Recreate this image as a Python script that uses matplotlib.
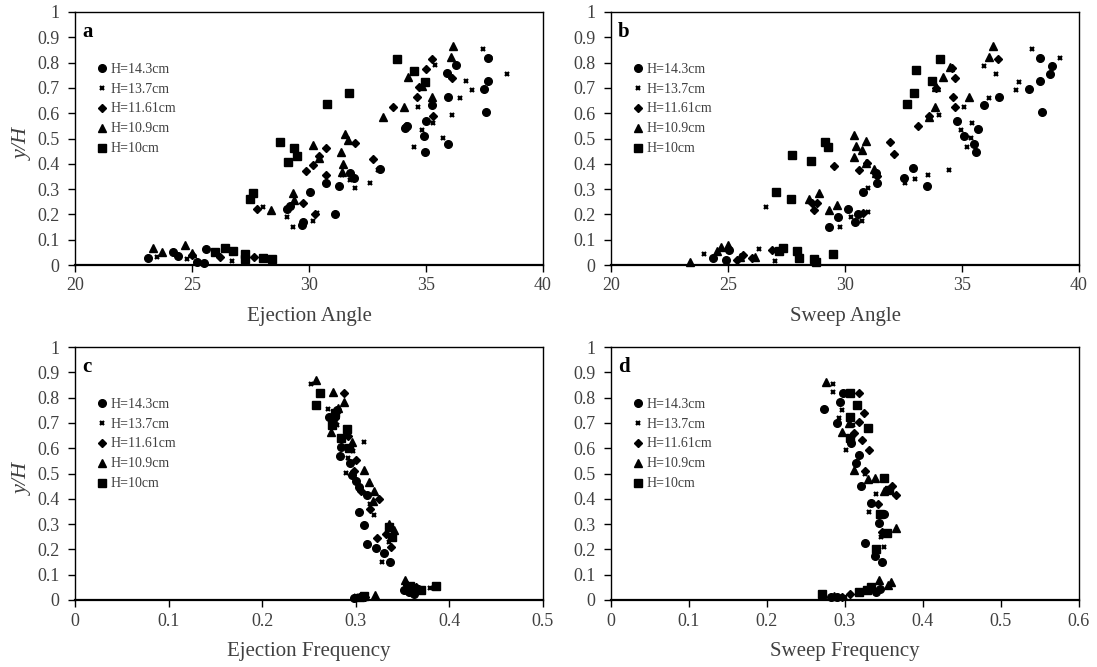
import matplotlib
matplotlib.use("Agg")
import matplotlib.pyplot as plt

plt.rcParams['font.family'] = ['Liberation Serif', 'DejaVu Serif']

labels = ['H=14.3cm', 'H=13.7cm', 'H=11.61cm', 'H=10.9cm', 'H=10cm']

# ---- panel a: ejection angle
a_x_143 = [23.1, 24.2, 24.4, 25.6, 25.2, 25.5, 29.04, 29.19, 29.69, 29.76, 30.04, 30.71, 31.11, 31.27, 31.75, 31.92, 33.03, 34.10, 34.17, 34.93, 34.96, 35.0, 35.24, 35.88, 35.95, 35.95, 36.27, 37.49, 37.56, 37.63, 37.66]
a_y_143 = [0.027, 0.050, 0.036, 0.062, 0.012, 0.008, 0.220, 0.233, 0.158, 0.171, 0.290, 0.326, 0.202, 0.313, 0.362, 0.345, 0.381, 0.540, 0.550, 0.510, 0.448, 0.571, 0.632, 0.758, 0.666, 0.477, 0.791, 0.695, 0.605, 0.817, 0.727]
a_x_137 = [23.5, 24.8, 26.7, 28.05, 29.04, 29.33, 30.15, 30.33, 31.40, 31.75, 31.97, 32.61, 32.96, 34.5, 34.67, 34.81, 35.31, 35.38, 35.74, 36.1, 36.45, 36.71, 36.95, 37.45, 37.73, 38.45]
a_y_137 = [0.033, 0.024, 0.016, 0.231, 0.191, 0.152, 0.174, 0.207, 0.356, 0.336, 0.303, 0.323, 0.376, 0.468, 0.626, 0.534, 0.560, 0.791, 0.501, 0.593, 0.659, 0.727, 0.692, 0.853, 0.820, 0.755]
a_x_1161 = [25.0, 26.2, 27.65, 27.76, 29.76, 29.86, 30.15, 30.44, 30.73, 30.73, 30.25, 31.97, 32.72, 33.60, 34.14, 34.60, 34.71, 34.99, 35.24, 35.28, 36.1]
a_y_1161 = [0.040, 0.032, 0.033, 0.220, 0.244, 0.373, 0.395, 0.431, 0.461, 0.356, 0.202, 0.483, 0.418, 0.626, 0.550, 0.663, 0.703, 0.774, 0.813, 0.589, 0.738]
a_x_109 = [23.35, 23.70, 24.7, 25.0, 28.36, 29.33, 29.36, 30.18, 30.44, 31.37, 31.44, 31.41, 31.54, 31.68, 33.18, 34.06, 34.24, 34.81, 35.24, 36.05, 36.14]
a_y_109 = [0.066, 0.053, 0.079, 0.046, 0.218, 0.283, 0.257, 0.475, 0.422, 0.448, 0.399, 0.369, 0.518, 0.494, 0.584, 0.623, 0.744, 0.708, 0.663, 0.824, 0.866]
a_x_10 = [25.98, 26.41, 26.77, 27.26, 27.26, 28.05, 28.4, 27.48, 27.59, 28.76, 29.12, 29.36, 29.47, 30.75, 31.72, 33.77, 34.49, 34.96]
a_y_10 = [0.053, 0.066, 0.057, 0.044, 0.023, 0.027, 0.023, 0.260, 0.286, 0.485, 0.409, 0.464, 0.432, 0.635, 0.679, 0.813, 0.768, 0.725]

# ---- panel b: sweep angle
b_x_143 = [24.35, 24.9, 25.06, 29.3, 29.69, 30.11, 30.43, 30.54, 30.78, 31.32, 31.35, 32.54, 32.89, 33.49, 34.77, 35.07, 35.53, 35.6, 35.67, 35.95, 36.57, 37.85, 38.35, 38.35, 38.42, 38.78, 38.83]
b_y_143 = [0.027, 0.020, 0.060, 0.152, 0.189, 0.222, 0.169, 0.202, 0.290, 0.362, 0.326, 0.343, 0.382, 0.312, 0.571, 0.510, 0.477, 0.448, 0.538, 0.632, 0.666, 0.695, 0.727, 0.817, 0.605, 0.755, 0.788]
b_x_137 = [23.96, 26.31, 27.02, 26.62, 29.8, 30.26, 30.73, 30.97, 30.97, 32.58, 32.99, 33.53, 34.46, 34.0, 34.96, 35.07, 35.21, 35.39, 35.41, 35.93, 36.14, 36.45, 37.31, 37.42, 37.98, 39.2]
b_y_137 = [0.042, 0.062, 0.017, 0.228, 0.152, 0.191, 0.174, 0.211, 0.303, 0.323, 0.339, 0.356, 0.376, 0.593, 0.534, 0.626, 0.468, 0.501, 0.560, 0.787, 0.659, 0.754, 0.692, 0.725, 0.853, 0.820]
b_x_1161 = [25.4, 25.65, 26.03, 26.88, 28.59, 28.69, 28.79, 29.52, 30.61, 30.75, 30.94, 31.35, 31.94, 32.11, 33.11, 33.6, 33.89, 34.6, 34.71, 34.57, 34.71, 36.52]
b_y_1161 = [0.020, 0.040, 0.026, 0.060, 0.247, 0.218, 0.244, 0.393, 0.376, 0.204, 0.402, 0.352, 0.485, 0.438, 0.551, 0.589, 0.698, 0.663, 0.626, 0.777, 0.738, 0.814]
b_x_109 = [23.39, 24.52, 24.7, 24.99, 25.53, 26.17, 28.48, 28.87, 29.33, 29.64, 30.4, 30.47, 30.73, 30.4, 30.9, 30.9, 31.25, 31.32, 33.6, 33.85, 33.89, 34.2, 34.49, 35.31, 36.14, 36.34]
b_y_109 = [0.013, 0.057, 0.070, 0.079, 0.033, 0.033, 0.260, 0.283, 0.218, 0.237, 0.514, 0.470, 0.455, 0.428, 0.492, 0.402, 0.378, 0.362, 0.584, 0.623, 0.705, 0.744, 0.784, 0.663, 0.824, 0.866]
b_x_10 = [27.17, 27.34, 27.93, 28.02, 28.69, 28.76, 29.5, 27.05, 27.69, 27.73, 28.55, 29.14, 29.26, 32.64, 32.93, 33.03, 33.7, 34.07]
b_y_10 = [0.057, 0.066, 0.057, 0.026, 0.023, 0.013, 0.042, 0.287, 0.260, 0.435, 0.411, 0.488, 0.465, 0.636, 0.681, 0.771, 0.727, 0.813]

# ---- panel c: ejection frequency
c_x_143 = [0.280, 0.271, 0.284, 0.283, 0.294, 0.296, 0.303, 0.312, 0.303, 0.309, 0.312, 0.322, 0.330, 0.337, 0.276, 0.300, 0.352, 0.357, 0.362, 0.366, 0.298, 0.305]
c_y_143 = [0.751, 0.725, 0.604, 0.570, 0.541, 0.494, 0.448, 0.415, 0.349, 0.297, 0.222, 0.205, 0.185, 0.152, 0.700, 0.470, 0.040, 0.030, 0.025, 0.045, 0.008, 0.010]
c_x_137 = [0.252, 0.270, 0.309, 0.290, 0.319, 0.328, 0.280, 0.297, 0.315, 0.379, 0.360, 0.300, 0.335, 0.292]
c_y_137 = [0.854, 0.754, 0.626, 0.501, 0.336, 0.152, 0.690, 0.590, 0.380, 0.047, 0.035, 0.015, 0.230, 0.560]
c_x_1161 = [0.287, 0.300, 0.323, 0.306, 0.332, 0.278, 0.292, 0.315, 0.325, 0.355, 0.364, 0.310, 0.338, 0.298]
c_y_1161 = [0.817, 0.554, 0.244, 0.430, 0.260, 0.720, 0.650, 0.360, 0.400, 0.060, 0.050, 0.012, 0.210, 0.510]
c_x_109 = [0.257, 0.276, 0.287, 0.273, 0.296, 0.309, 0.314, 0.319, 0.341, 0.353, 0.321, 0.281, 0.318, 0.336, 0.304]
c_y_109 = [0.870, 0.824, 0.784, 0.666, 0.626, 0.514, 0.468, 0.429, 0.277, 0.079, 0.020, 0.760, 0.390, 0.300, 0.012]
c_x_10 = [0.262, 0.258, 0.275, 0.291, 0.284, 0.336, 0.339, 0.386, 0.370, 0.358, 0.309, 0.293, 0.278]
c_y_10 = [0.817, 0.771, 0.692, 0.675, 0.639, 0.290, 0.250, 0.055, 0.040, 0.055, 0.015, 0.600, 0.740]

# ---- panel d: sweep frequency
d_x_143 = [0.297, 0.273, 0.294, 0.290, 0.318, 0.314, 0.320, 0.333, 0.350, 0.344, 0.326, 0.339, 0.348, 0.308, 0.340, 0.345, 0.290, 0.282]
d_y_143 = [0.817, 0.754, 0.784, 0.699, 0.574, 0.541, 0.451, 0.382, 0.340, 0.303, 0.224, 0.172, 0.152, 0.620, 0.030, 0.045, 0.010, 0.012]
d_x_137 = [0.285, 0.285, 0.296, 0.301, 0.331, 0.325, 0.350, 0.310, 0.340, 0.300, 0.338, 0.346, 0.292]
d_y_137 = [0.854, 0.821, 0.751, 0.593, 0.349, 0.500, 0.210, 0.690, 0.420, 0.012, 0.040, 0.250, 0.720]
d_x_1161 = [0.318, 0.324, 0.318, 0.322, 0.331, 0.360, 0.365, 0.342, 0.307, 0.326, 0.348, 0.296, 0.312]
d_y_1161 = [0.817, 0.741, 0.705, 0.633, 0.593, 0.450, 0.415, 0.380, 0.024, 0.510, 0.270, 0.012, 0.660]
d_x_109 = [0.275, 0.296, 0.311, 0.339, 0.365, 0.359, 0.343, 0.305, 0.330, 0.350, 0.355, 0.286]
d_y_109 = [0.863, 0.666, 0.514, 0.481, 0.284, 0.070, 0.080, 0.700, 0.480, 0.430, 0.060, 0.014]
d_x_10 = [0.307, 0.306, 0.329, 0.307, 0.350, 0.356, 0.354, 0.271, 0.318, 0.328, 0.333, 0.345, 0.340, 0.315]
d_y_10 = [0.817, 0.725, 0.679, 0.639, 0.481, 0.435, 0.264, 0.024, 0.030, 0.040, 0.050, 0.340, 0.200, 0.770]

markers = [('o', 5.5, 1), ('x', 3.5, 1.6), ('D', 4.2, 1), ('^', 5.5, 1), ('s', 5.2, 1)]
txt = '#404040'

fig = plt.figure(figsize=(10.97, 6.67), dpi=100)
W, H = 1097, 667
boxes = [(75, 12), (611, 12), (75, 347), (611, 347)]

panels = [
    ('a', [(a_x_143, a_y_143), (a_x_137, a_y_137), (a_x_1161, a_y_1161), (a_x_109, a_y_109), (a_x_10, a_y_10)],
     (20, 40, 5), 'Ejection Angle', True),
    ('b', [(b_x_143, b_y_143), (b_x_137, b_y_137), (b_x_1161, b_y_1161), (b_x_109, b_y_109), (b_x_10, b_y_10)],
     (20, 40, 5), 'Sweep Angle', False),
    ('c', [(c_x_143, c_y_143), (c_x_137, c_y_137), (c_x_1161, c_y_1161), (c_x_109, c_y_109), (c_x_10, c_y_10)],
     (0, 0.5, 0.1), 'Ejection Frequency', True),
    ('d', [(d_x_143, d_y_143), (d_x_137, d_y_137), (d_x_1161, d_y_1161), (d_x_109, d_y_109), (d_x_10, d_y_10)],
     (0, 0.6, 0.1), 'Sweep Frequency', False),
]

for (left, top), (tag, series, (x0, x1, dx), xlab, show_y) in zip(boxes, panels):
    ax = fig.add_axes([left / W, 1 - (top + 253) / H, 468 / W, 253 / H])
    for (xs, ys), (m, ms, mew), lab in zip(series, markers, labels):
        ax.plot(xs, ys, linestyle='none', marker=m, markersize=ms, markeredgewidth=mew,
                color='black', label=lab, clip_on=False)
    ax.set_xlim(x0, x1)
    ax.set_ylim(0, 1)
    n = int(round((x1 - x0) / dx))
    xt = [x0 + i * dx for i in range(n + 1)]
    ax.set_xticks(xt)
    ax.set_xticklabels(['%g' % round(v, 2) for v in xt])
    yt = [i / 10 for i in range(11)]
    ax.set_yticks(yt)
    ax.set_yticklabels(['%g' % v for v in yt])
    ax.tick_params(axis='both', direction='out', length=5, width=1, labelsize=13,
                   labelcolor=txt, color='black')
    ax.tick_params(axis='y', pad=6)
    ax.tick_params(axis='x', pad=4)
    for s in ['top', 'right', 'left']:
        ax.spines[s].set_linewidth(1.0)
    ax.spines['bottom'].set_linewidth(1.6)
    ax.set_xlabel(xlab, fontsize=15, color=txt)
    ax.xaxis.set_label_coords(0.5, -0.165)
    if show_y:
        ax.set_ylabel('y/H', fontsize=16, style='italic', color=txt)
        ax.yaxis.set_label_coords(-0.09, 0.48)
    ax.text(0.015, 0.92, tag, transform=ax.transAxes, fontsize=15, fontweight='bold',
            ha='left', va='center')
    ax.legend(loc='upper left', bbox_to_anchor=(0.045, 0.80), frameon=False, fontsize=10,
              handlelength=0.8, handletextpad=0.25, labelspacing=0.5, borderpad=0,
              borderaxespad=0, labelcolor=txt)

fig.savefig('out.png', dpi=100)
